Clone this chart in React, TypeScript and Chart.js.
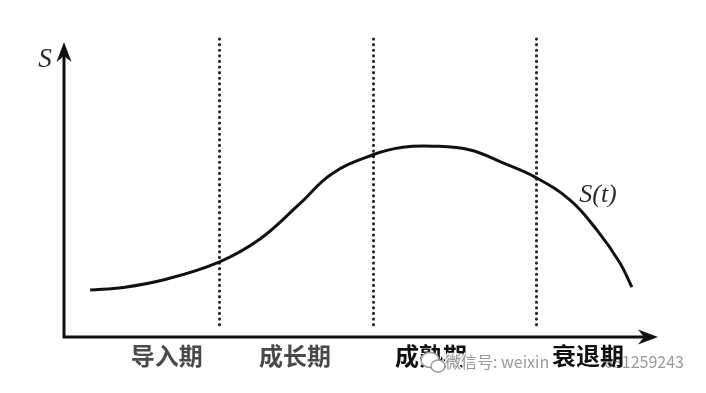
import { useEffect, useRef } from 'react';
import { Chart, registerables } from 'chart.js';

Chart.register(...registerables);

// Product life cycle: sales S over time t (arbitrary units, 0–100 on both axes)
const timeValues = [4.4, 10.0, 17.0, 26.1, 33.0, 39.7, 45.0, 51.9, 57.0, 62.1, 68.4, 73.9, 79.3, 85.2, 89.7, 93.6, 95.6];
const salesValues = [15.9, 16.8, 19.5, 25.4, 33.2, 45.2, 55.2, 61.7, 64.3, 64.7, 63.4, 59.0, 54.2, 46.4, 36.3, 25.1, 16.9];

// Stage boundaries on the time axis and the stage names printed under the axis
const phaseBoundaries = [26.1, 52.0, 79.5];
const phaseNames = ['导入期', '成长期', '成熟期', '衰退期'];
const phaseLabelX = [17.3, 38.9, 61.8, 88.2];
const phaseEmphasis = [false, false, true, true];

const yAxisTitle = 'S';
const curveLabel = 'S(t)';
const curveLabelAt = [89.9, 48.1];
const boundarySpan = [4, 101];
const watermarkParts = ['微信号: weixin', '681259243'];

function drawArrowHead(ctx: CanvasRenderingContext2D, x: number, y: number, dir: 'up' | 'right') {
  const L = 20, W = 7.5, notch = 6;
  ctx.beginPath();
  if (dir === 'right') {
    ctx.moveTo(x, y);
    ctx.lineTo(x - L, y - W);
    ctx.lineTo(x - L + notch, y);
    ctx.lineTo(x - L, y + W);
  } else {
    ctx.moveTo(x, y);
    ctx.lineTo(x - W, y + L);
    ctx.lineTo(x, y + L - notch);
    ctx.lineTo(x + W, y + L);
  }
  ctx.closePath();
  ctx.fill();
}

const lifeCyclePlugin = {
  id: 'lifeCycle',
  beforeDatasetsDraw(chart: any) {
    const { ctx, scales } = chart;
    const xs = scales.x, ys = scales.y;
    ctx.save();
    ctx.strokeStyle = '#2a2a2a';
    ctx.lineWidth = 3.2;
    ctx.lineCap = 'round';
    ctx.setLineDash([0, 5.6]);
    phaseBoundaries.forEach((b) => {
      const px = Math.round(xs.getPixelForValue(b)) + 0.5;
      ctx.beginPath();
      ctx.moveTo(px, ys.getPixelForValue(boundarySpan[1]));
      ctx.lineTo(px, ys.getPixelForValue(boundarySpan[0]));
      ctx.stroke();
    });
    ctx.restore();
  },
  afterDatasetsDraw(chart: any) {
    const { ctx, scales, chartArea } = chart;
    const xs = scales.x, ys = scales.y;
    const ox = chartArea.left, oy = chartArea.bottom;
    ctx.save();

    // axes with arrow heads
    ctx.strokeStyle = '#111';
    ctx.fillStyle = '#111';
    ctx.lineWidth = 3;
    ctx.beginPath();
    ctx.moveTo(ox, chartArea.top + 14);
    ctx.lineTo(ox, oy);
    ctx.lineTo(chartArea.right - 14, oy);
    ctx.stroke();
    drawArrowHead(ctx, ox, chartArea.top, 'up');
    drawArrowHead(ctx, chartArea.right, oy, 'right');

    // axis title and curve label
    ctx.font = 'italic 27px "Liberation Serif", "DejaVu Serif", serif';
    ctx.fillStyle = '#2a2a2a';
    ctx.textAlign = 'center';
    ctx.textBaseline = 'middle';
    ctx.fillText(yAxisTitle, ox - 19, chartArea.top + 18);
    ctx.font = 'italic 26px "Liberation Serif", "DejaVu Serif", serif';
    ctx.fillText(curveLabel, xs.getPixelForValue(curveLabelAt[0]), ys.getPixelForValue(curveLabelAt[1]));

    // stage names
    const drawPhase = (i: number) => {
      ctx.font = 'bold 24px "Noto Sans CJK SC", sans-serif';
      ctx.fillStyle = phaseEmphasis[i] ? '#111' : '#4a4a4a';
      ctx.textAlign = 'center';
      ctx.textBaseline = 'middle';
      ctx.fillText(phaseNames[i], xs.getPixelForValue(phaseLabelX[i]), oy + 19);
    };
    drawPhase(0);
    drawPhase(1);
    drawPhase(2);

    // watermark overlay
    const wy = oy + 25;
    ctx.font = '16px "Noto Sans CJK SC", sans-serif';
    ctx.textAlign = 'left';
    ctx.textBaseline = 'middle';
    ctx.lineWidth = 3;
    ctx.strokeStyle = 'rgba(255,255,255,0.9)';
    ctx.fillStyle = '#9a9a9a';
    ctx.strokeText(watermarkParts[0], 445, wy);
    ctx.fillText(watermarkParts[0], 445, wy);
    ctx.strokeText(watermarkParts[1], 604, wy);
    ctx.fillText(watermarkParts[1], 604, wy);
    // chat-bubble logo
    ctx.lineWidth = 1.5;
    ctx.strokeStyle = '#9a9a9a';
    ctx.fillStyle = '#fff';
    ctx.beginPath();
    ctx.ellipse(430, wy - 2, 9, 7.5, 0, 0, Math.PI * 2);
    ctx.fill();
    ctx.stroke();
    ctx.beginPath();
    ctx.ellipse(438, wy + 4, 7, 6, 0, 0, Math.PI * 2);
    ctx.fill();
    ctx.stroke();

    drawPhase(3);
    ctx.restore();
  },
};

export default function App() {
  const canvasRef = useRef<HTMLCanvasElement | null>(null);

  useEffect(() => {
    const canvas = canvasRef.current;
    if (!canvas) return;
    const chart = new Chart(canvas, {
      type: 'line',
      data: {
        datasets: [
          {
            label: curveLabel,
            data: timeValues.map((t, i) => ({ x: t, y: salesValues[i] })),
            borderColor: '#111',
            borderWidth: 3,
            pointRadius: 0,
            fill: false,
            tension: 0.4,
            clip: false,
          },
        ],
      },
      options: {
        responsive: false,
        animation: false,
        layout: { padding: { left: 64, right: 48, top: 42, bottom: 56 } },
        plugins: { legend: { display: false }, tooltip: { enabled: false } },
        events: [],
        scales: {
          x: { type: 'linear', min: 0, max: 100, display: false },
          y: { type: 'linear', min: 0, max: 100, display: false },
        },
      },
      plugins: [lifeCyclePlugin],
    });
    return () => chart.destroy();
  }, []);

  return (
    <div style={{ position: 'absolute', left: 0, top: 0, width: 706, height: 393, background: '#fff' }}>
      <canvas ref={canvasRef} width={706} height={393} />
    </div>
  );
}
